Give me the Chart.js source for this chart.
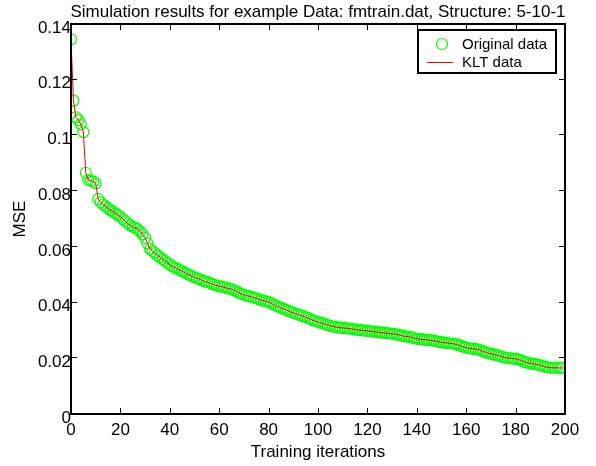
<!DOCTYPE html>
<html>
<head>
<meta charset="utf-8">
<script src="https://cdn.jsdelivr.net/npm/chart.js@4.4.1/dist/chart.umd.min.js"></script>
<style>
  html, body { margin: 0; padding: 0; background: #fff; }
  #wrap { width: 596px; height: 466px; }
</style>
</head>
<body>
<div id="wrap"><canvas id="graficoMse" width="596" height="466"></canvas></div>
<script>
// Datos (MSE por iteracion, 0..199)
const tituloGrafico = "Simulation results for example Data: fmtrain.dat, Structure: 5-10-1";
const ticksX = [0, 20, 40, 60, 80, 100, 120, 140, 160, 180, 200];
const ticksY = [0, 0.02, 0.04, 0.06, 0.08, 0.1, 0.12, 0.14];

const mseOriginal = [
    0.1345, 0.1125, 0.1065, 0.1055, 0.1040, 0.1012, 0.0866, 0.0840, 0.0838, 0.0834,
    0.0828, 0.0772, 0.0760, 0.0752, 0.0745, 0.0738, 0.0731, 0.0726, 0.0720, 0.0714,
    0.0708, 0.0700, 0.0692, 0.0684, 0.0677, 0.0672, 0.0668, 0.0664, 0.0655, 0.0645,
    0.0632, 0.0612, 0.0592, 0.0585, 0.0578, 0.0570, 0.0563, 0.0556, 0.0550, 0.0543,
    0.0536, 0.0530, 0.0526, 0.0522, 0.0517, 0.0512, 0.0508, 0.0503, 0.0499, 0.0494,
    0.0490, 0.0487, 0.0484, 0.0480, 0.0476, 0.0474, 0.0471, 0.0467, 0.0464, 0.0461,
    0.0459, 0.0457, 0.0455, 0.0452, 0.0450, 0.0448, 0.0444, 0.0440, 0.0435, 0.0431,
    0.0428, 0.0425, 0.0423, 0.0420, 0.0418, 0.0415, 0.0412, 0.0409, 0.0406, 0.0404,
    0.0402, 0.0398, 0.0393, 0.0389, 0.0385, 0.0381, 0.0378, 0.0374, 0.0370, 0.0366,
    0.0363, 0.0360, 0.0357, 0.0354, 0.0351, 0.0348, 0.0344, 0.0340, 0.0336, 0.0333,
    0.0331, 0.0328, 0.0325, 0.0322, 0.0319, 0.0316, 0.0314, 0.0313, 0.0311, 0.0310,
    0.0309, 0.0308, 0.0307, 0.0306, 0.0305, 0.0304, 0.0302, 0.0301, 0.0300, 0.0299,
    0.0298, 0.0297, 0.0296, 0.0295, 0.0294, 0.0293, 0.0292, 0.0291, 0.0290, 0.0289,
    0.0288, 0.0287, 0.0285, 0.0283, 0.0281, 0.0279, 0.0278, 0.0277, 0.0275, 0.0272,
    0.0270, 0.0269, 0.0268, 0.0267, 0.0266, 0.0265, 0.0264, 0.0263, 0.0261, 0.0259,
    0.0257, 0.0256, 0.0255, 0.0254, 0.0253, 0.0252, 0.0250, 0.0247, 0.0244, 0.0241,
    0.0238, 0.0236, 0.0235, 0.0234, 0.0233, 0.0231, 0.0228, 0.0224, 0.0221, 0.0218,
    0.0216, 0.0214, 0.0212, 0.0210, 0.0207, 0.0204, 0.0202, 0.0201, 0.0200, 0.0199,
    0.0198, 0.0196, 0.0193, 0.0189, 0.0186, 0.0183, 0.0181, 0.0180, 0.0179, 0.0177,
    0.0175, 0.0172, 0.0169, 0.0167, 0.0166, 0.0166, 0.0166, 0.0166, 0.0165, 0.0166
];
// la linea roja KLT pasa por encima de los circulos
const mseKlt = mseOriginal;

const fuente = "'Liberation Sans', Arial, sans-serif";

// marco, ticks hacia adentro, titulo y leyenda al estilo matlab
const marcoMatlab = {
    id: "marcoMatlab",
    afterDraw(chart) {
        const { ctx, chartArea: a, scales } = chart;
        ctx.save();
        ctx.strokeStyle = "#000";

        ctx.lineWidth = 1;
        ctx.beginPath();
        ticksX.forEach(v => {
            const px = Math.round(scales.x.getPixelForValue(v)) + 0.5;
            ctx.moveTo(px, a.bottom); ctx.lineTo(px, a.bottom - 6);
            ctx.moveTo(px, a.top); ctx.lineTo(px, a.top + 6);
        });
        ticksY.forEach(v => {
            const py = Math.round(scales.y.getPixelForValue(v)) - 0.5;
            ctx.moveTo(a.left, py); ctx.lineTo(a.left + 6, py);
            ctx.moveTo(a.right, py); ctx.lineTo(a.right - 6, py);
        });
        ctx.stroke();

        ctx.lineWidth = 2;
        ctx.strokeRect(a.left, a.top, a.right - a.left, a.bottom - a.top);

        // titulo
        ctx.fillStyle = "#000";
        ctx.font = "17px " + fuente;
        ctx.textAlign = "center";
        ctx.textBaseline = "middle";
        ctx.fillText(tituloGrafico, (a.left + a.right) / 2, 12);

        // leyenda
        ctx.fillStyle = "#fff";
        ctx.fillRect(418, 30, 138, 43);
        ctx.lineWidth = 2;
        ctx.strokeRect(418, 30, 138, 43);
        const ds = chart.data.datasets;
        ctx.fillStyle = "#000";
        ctx.font = "15px " + fuente;
        ctx.textAlign = "left";
        ctx.strokeStyle = "#00ff00";
        ctx.lineWidth = 1.2;
        ctx.beginPath();
        ctx.arc(442, 44, 5.5, 0, Math.PI * 2);
        ctx.stroke();
        ctx.fillText(ds[1].label, 462, 45);
        ctx.strokeStyle = "#ff0000";
        ctx.lineWidth = 1;
        ctx.beginPath();
        ctx.moveTo(427, 62.5); ctx.lineTo(453, 62.5);
        ctx.stroke();
        ctx.fillText(ds[0].label, 462, 63);
        ctx.restore();
    }
};

const ctx = document.getElementById("graficoMse");

new Chart(ctx, {
    type: "line",
    data: {
        datasets: [{
            label: "KLT data",
            data: mseKlt.map((v, i) => ({ x: i, y: v })),
            borderColor: "#ff0000",
            borderWidth: 1,
            pointRadius: 0,
            tension: 0,
            order: 0
        }, {
            label: "Original data",
            data: mseOriginal.map((v, i) => ({ x: i, y: v })),
            showLine: false,
            pointStyle: "circle",
            pointRadius: 5.5,
            pointBorderWidth: 1.2,
            pointBorderColor: "#00ff00",
            pointBackgroundColor: "rgba(0,0,0,0)",
            borderColor: "#00ff00",
            order: 1
        }]
    },
    options: {
        responsive: false,
        animation: false,
        layout: { padding: { top: 24, right: 31, left: 0, bottom: 0 } },
        plugins: {
            legend: { display: false },
            tooltip: { enabled: false },
            title: { display: false }
        },
        scales: {
            x: {
                type: "linear",
                min: 0,
                max: 200,
                afterFit: s => { s.height = 52; },
                afterBuildTicks: s => { s.ticks = ticksX.map(v => ({ value: v })); },
                grid: { display: false, drawTicks: false },
                border: { display: false },
                ticks: { color: "#000", padding: 6, maxRotation: 0, font: { size: 17, family: fuente } },
                title: {
                    display: true,
                    text: "Training iterations",
                    color: "#000",
                    padding: { top: 0, bottom: 3 },
                    font: { size: 17, family: fuente }
                }
            },
            y: {
                min: 0,
                max: 0.14,
                afterFit: s => { s.width = 71; },
                afterBuildTicks: s => { s.ticks = ticksY.map(v => ({ value: v })); },
                grid: { display: false, drawTicks: false },
                border: { display: false },
                ticks: {
                    color: "#000",
                    padding: 0,
                    labelOffset: 4,
                    font: { size: 17, family: fuente },
                    callback: v => String(+v.toFixed(2))
                },
                title: {
                    display: true,
                    text: "MSE",
                    color: "#000",
                    padding: { top: 10, bottom: 0 },
                    font: { size: 17, family: fuente }
                }
            }
        }
    },
    plugins: [marcoMatlab]
});
</script>
</body>
</html>
